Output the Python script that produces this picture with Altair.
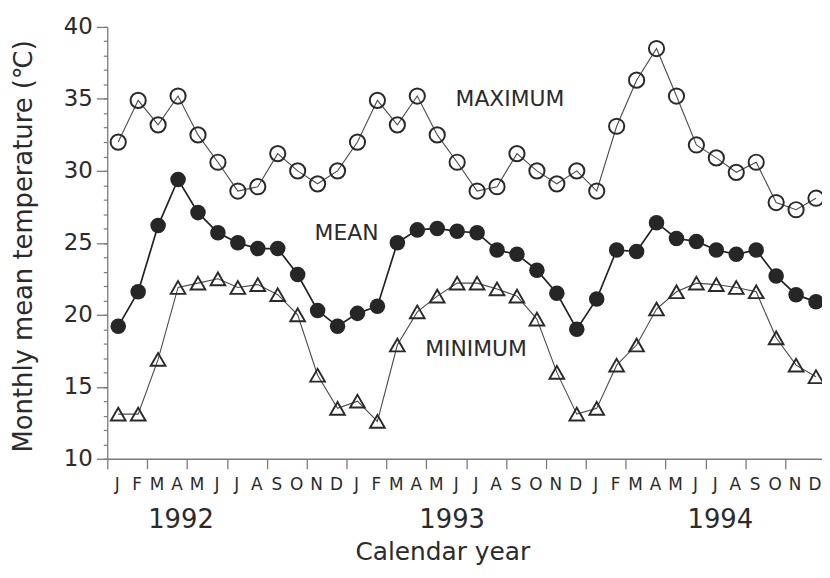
import altair as alt
import pandas as pd

# ---------------- data ----------------
months = list("JFMAMJJASOND")
years = ["1992", "1993", "1994"]
series_names = ["MAXIMUM", "MEAN", "MINIMUM"]

maximum = [32.0, 34.9, 33.2, 35.2, 32.5, 30.6, 28.6, 28.9, 31.2, 30.0, 29.1, 30.0,
           32.0, 34.9, 33.2, 35.2, 32.5, 30.6, 28.6, 28.9, 31.2, 30.0, 29.1, 30.0,
           28.6, 33.1, 36.3, 38.5, 35.2, 31.8, 30.9, 29.9, 30.6, 27.8, 27.3, 28.1]
mean = [19.2, 21.6, 26.2, 29.4, 27.1, 25.7, 25.0, 24.6, 24.6, 22.8, 20.3, 19.2,
        20.1, 20.6, 25.0, 25.9, 26.0, 25.8, 25.7, 24.5, 24.2, 23.1, 21.5, 19.0,
        21.1, 24.5, 24.4, 26.4, 25.3, 25.1, 24.5, 24.2, 24.5, 22.7, 21.4, 20.9]
minimum = [13.1, 13.1, 16.9, 21.9, 22.2, 22.5, 21.9, 22.1, 21.4, 20.0, 15.8, 13.5,
           14.0, 12.6, 17.9, 20.2, 21.3, 22.2, 22.2, 21.8, 21.3, 19.7, 16.0, 13.1,
           13.5, 16.5, 17.9, 20.4, 21.6, 22.2, 22.1, 21.9, 21.6, 18.4, 16.5, 15.7]

# ---------------- layout / style ----------------
W, H = 720, 435
FONT = "DejaVu Sans"
TXT = "#2b2b2b"
AX = "#7a7a7a"
POINT_OFFSET = 0.55
year_anchor = [3.7, 17.3, 30.75]                 # label anchors (month units)
label_anchor = [(20.2, 35.0), (12.0, 25.7), (18.5, 17.6)]

n = len(maximum)
df = pd.DataFrame({
    "t": [i + POINT_OFFSET for i in range(n)],
    "tm": [i + 0.5 for i in range(n)],
    "mon": [months[i % 12] for i in range(n)],
    "max": maximum,
    "mean": mean,
    "min": minimum,
})
df_years = pd.DataFrame({"t": year_anchor, "year": years})
df_labels = pd.DataFrame({
    "t": [a[0] for a in label_anchor],
    "v": [a[1] for a in label_anchor],
    "name": series_names,
})

xs = alt.Scale(domain=[0, 35.85], nice=False, zero=False)
ys = alt.Scale(domain=[10, 40], nice=False, zero=False)

base = alt.Chart(df)

line_max = base.mark_line(color="#4a4a4a", strokeWidth=1.1).encode(
    x=alt.X("t:Q", scale=xs, axis=alt.Axis(
        values=list(range(36)), tickSize=10, labels=False, grid=False, title=None,
        domainColor=AX, tickColor=AX, domainWidth=1.3, tickWidth=1.3)),
    y=alt.Y("max:Q", scale=ys, axis=alt.Axis(
        values=[10, 15, 20, 25, 30, 35, 40], tickSize=11, labelFontSize=23,
        labelPadding=4, labelColor=TXT, grid=False, domainColor=AX, tickColor=AX,
        domainWidth=1.3, tickWidth=1.3, orient="left",
        title="Monthly mean temperature (℃)", titleFontSize=26,
        titleFontWeight="normal", titleColor=TXT, titleX=-84, titleY=H / 2 + 3,
        titleAngle=270, titleAlign="center", titleBaseline="middle")),
)

line_min = base.mark_line(color="#4a4a4a", strokeWidth=1.1).encode(
    x=alt.X("t:Q", scale=xs),
    y=alt.Y("min:Q", scale=ys, axis=alt.Axis(
        values=list(range(10, 41)), tickSize=4, labels=False, domain=False,
        grid=False, title=None, orient="left", tickColor=AX, tickWidth=1.2)),
)

line_mean = base.mark_line(color="#222222", strokeWidth=1.7).encode(
    x=alt.X("t:Q", scale=xs),
    y=alt.Y("mean:Q", scale=ys, axis=None),
)

pts_max = base.mark_point(shape="circle", filled=False, color="#2a2a2a",
                          strokeWidth=2, size=235, opacity=1).encode(
    x=alt.X("t:Q", scale=xs),
    y=alt.Y("max:Q", scale=ys, axis=None),
)

pts_mean = base.mark_point(shape="circle", filled=True, color="#262626",
                           size=245, opacity=1).encode(
    x=alt.X("t:Q", scale=xs),
    y=alt.Y("mean:Q", scale=ys, axis=None),
)

pts_min = base.mark_point(shape="triangle-up", filled=False, color="#2a2a2a",
                          strokeWidth=1.9, size=220, opacity=1).encode(
    x=alt.X("t:Q", scale=xs),
    y=alt.Y("min:Q", scale=ys, axis=None),
)

series_text = alt.Chart(df_labels).mark_text(
    font=FONT, fontSize=22, color=TXT, align="center", baseline="middle").encode(
    x=alt.X("t:Q", scale=xs),
    y=alt.Y("v:Q", scale=ys, axis=None),
    text="name:N",
)

month_text = base.mark_text(font=FONT, fontSize=17, color=TXT,
                            align="center", baseline="middle").encode(
    x=alt.X("tm:Q", scale=xs),
    y=alt.value(H + 26),
    text="mon:N",
)

year_text = alt.Chart(df_years).mark_text(font=FONT, fontSize=26, color=TXT,
                                          align="center", baseline="middle").encode(
    x=alt.X("t:Q", scale=xs),
    y=alt.value(H + 62),
    text="year:N",
)

xtitle = alt.Chart(pd.DataFrame({"s": ["Calendar year"]})).mark_text(
    font=FONT, fontSize=25, color=TXT, align="center", baseline="alphabetic").encode(
    x=alt.value(338),
    y=alt.value(H + 102),
    text="s:N",
)

chart = alt.layer(
    line_max, line_min, line_mean, pts_max, pts_mean, pts_min,
    series_text, month_text, year_text, xtitle,
).resolve_axis(y="independent").properties(
    width=W, height=H,
    autosize="none",
    padding={"left": 100, "top": 17, "right": 0, "bottom": 110},
    background="white",
).configure_view(stroke=None).configure_axis(
    labelFont=FONT, titleFont=FONT,
)

chart.save("out.html", embed_options={"renderer": "svg", "actions": False})
